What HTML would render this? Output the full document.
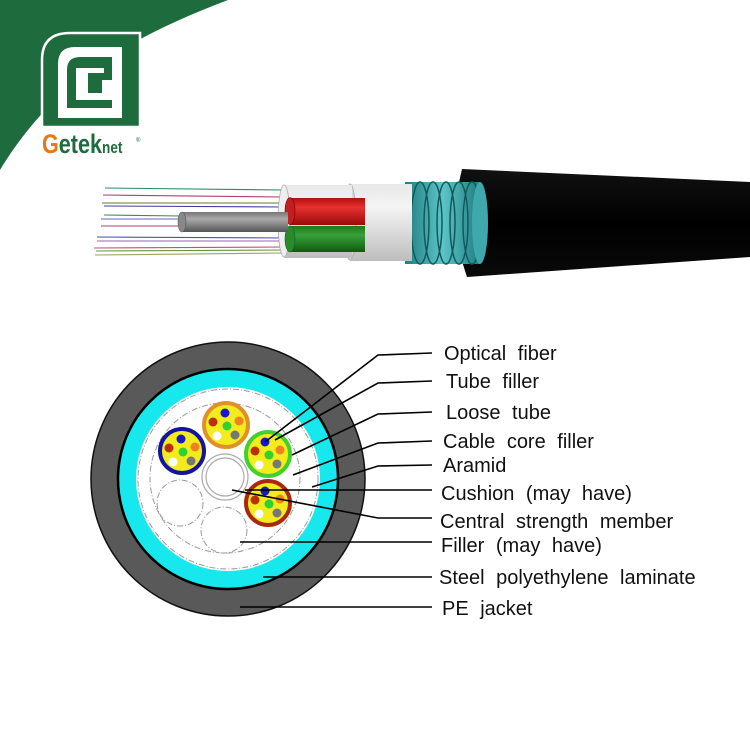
<!DOCTYPE html>
<html><head><meta charset="utf-8"><style>
html,body{margin:0;padding:0;background:#fff;}
svg{display:block;}
</style></head><body>
<svg width="750" height="750" viewBox="0 0 750 750" xmlns="http://www.w3.org/2000/svg">
<defs>
<linearGradient id="gjack" x1="0" y1="0" x2="0" y2="1"><stop offset="0" stop-color="#111"/><stop offset="0.5" stop-color="#000"/><stop offset="1" stop-color="#0a0a0a"/></linearGradient>
<linearGradient id="gwhite" x1="0" y1="0" x2="0" y2="1"><stop offset="0" stop-color="#e8e8e8"/><stop offset="0.3" stop-color="#f4f4f4"/><stop offset="1" stop-color="#bdbdbd"/></linearGradient>
<linearGradient id="gred" x1="0" y1="0" x2="0" y2="1"><stop offset="0" stop-color="#b01010"/><stop offset="0.35" stop-color="#e83030"/><stop offset="1" stop-color="#9a0a0a"/></linearGradient>
<linearGradient id="ggreen" x1="0" y1="0" x2="0" y2="1"><stop offset="0" stop-color="#1a7a1a"/><stop offset="0.35" stop-color="#3aa03a"/><stop offset="1" stop-color="#0e5a0e"/></linearGradient>
<linearGradient id="ggray" x1="0" y1="0" x2="0" y2="1"><stop offset="0" stop-color="#777"/><stop offset="0.35" stop-color="#aaa"/><stop offset="1" stop-color="#555"/></linearGradient>
<linearGradient id="gcyan" x1="0" y1="0" x2="1" y2="0"><stop offset="0" stop-color="#1f7d80"/><stop offset="0.5" stop-color="#5ec4c8"/><stop offset="1" stop-color="#1f7d80"/></linearGradient>
</defs>

<path d="M0,0 L228,0 C150,30 60,70 0,170 Z" fill="#1e6b3e"/>
<path d="M42,127 L42,60 Q42,33 70,33 L140,33 L140,127 Z" fill="#1e6b3e" stroke="#fff" stroke-width="2.5"/>
<path d="M58,118 L58,64 Q58,47 75,47 L122,47 L122,118 Z" fill="#fff"/>
<path d="M67,108 L67,70 Q67,57 80,57 L112,57 L112,108 Z" fill="#1e6b3e"/>
<path d="M76,100 L76,68 L104,68 L104,73 L88,73 L88,93 L102,93 L102,80 L112,80 L112,100 Z" fill="#fff"/>
<text x="42" y="153" font-family="Liberation Sans, sans-serif" font-weight="bold" font-size="27" fill="#1e6b3e" transform="scale(0.8,1)" transform-origin="42 153"><tspan fill="#e67817">G</tspan>etek<tspan font-size="17">net</tspan></text>
<text x="136" y="142" font-family="Liberation Sans, sans-serif" font-size="6" fill="#1e6b3e">®</text>

<g stroke-width="1.1" fill="none">
<line x1="105" y1="188" x2="285" y2="190" stroke="#2a8a6a"/>
<line x1="103" y1="195" x2="285" y2="197" stroke="#b04070"/>
<line x1="102" y1="203" x2="285" y2="203" stroke="#6a7a2a"/>
<line x1="104" y1="206" x2="285" y2="207" stroke="#4040a0"/>
<line x1="104" y1="215" x2="182" y2="216" stroke="#3a8a5a"/>
<line x1="101" y1="219" x2="182" y2="219" stroke="#7060c0"/>
<line x1="101" y1="226" x2="182" y2="226" stroke="#b04070"/>
<line x1="97" y1="237" x2="285" y2="238" stroke="#5050b0"/>
<line x1="97" y1="241" x2="285" y2="241" stroke="#9a60b0"/>
<line x1="94" y1="248" x2="285" y2="247" stroke="#c05080"/>
<line x1="96" y1="251" x2="285" y2="250" stroke="#6a9a3a"/>
<line x1="95" y1="255" x2="285" y2="253" stroke="#a0a060"/>
</g>

<path d="M462,169 L750,182 L750,257 L467,277 Q448,223 462,169 Z" fill="url(#gjack)"/>
<rect x="405" y="182" width="75" height="82" fill="url(#gcyan)"/>
<g fill="none" stroke="#0f5a5c" stroke-width="1.5">
<ellipse cx="420" cy="223" rx="9" ry="41"/>
<ellipse cx="433" cy="223" rx="9" ry="41"/>
<ellipse cx="446" cy="223" rx="9" ry="41"/>
<ellipse cx="459" cy="223" rx="9" ry="41"/>
<ellipse cx="472" cy="223" rx="9" ry="41"/>
</g>
<ellipse cx="480" cy="223" rx="8" ry="41" fill="#3fa8ac"/>
<rect x="350" y="184" width="62" height="77" fill="url(#gwhite)"/>
<ellipse cx="350" cy="222" rx="6" ry="38" fill="#d8d8d8" stroke="#aaa" stroke-width="0.8"/>
<rect x="284" y="185" width="68" height="73" fill="url(#gwhite)"/>
<ellipse cx="284" cy="221" rx="6" ry="36" fill="#eee" stroke="#aaa" stroke-width="0.8"/>
<rect x="290" y="198" width="75" height="27" fill="url(#gred)"/>
<ellipse cx="290" cy="211" rx="5" ry="13.5" fill="#c02020" stroke="#700" stroke-width="0.6"/>
<rect x="290" y="226" width="75" height="26" fill="url(#ggreen)"/>
<ellipse cx="290" cy="239" rx="5" ry="13" fill="#2a8a2a" stroke="#064" stroke-width="0.6"/>
<rect x="182" y="212" width="106" height="20" fill="url(#ggray)"/>
<ellipse cx="182" cy="222" rx="4" ry="10" fill="#888" stroke="#555" stroke-width="0.6"/>

<circle cx="228" cy="479" r="137" fill="#595959" stroke="#111" stroke-width="1.5"/>
<circle cx="228" cy="479" r="110" fill="#17e8ee" stroke="#000" stroke-width="2.5"/>
<circle cx="228" cy="479" r="92" fill="#fff"/>
<circle cx="228" cy="479" r="90" fill="none" stroke="#999" stroke-width="1" stroke-dasharray="6 2 1 2"/>
<circle cx="225" cy="478" r="75" fill="none" stroke="#999" stroke-width="1" stroke-dasharray="6 2 1 2"/>
<circle cx="225" cy="477" r="23" fill="#fff" stroke="#aaa" stroke-width="1.2"/>
<circle cx="225" cy="477" r="19" fill="#fff" stroke="#aaa" stroke-width="1.2"/>
<circle cx="180" cy="503" r="23" fill="#fff" stroke="#999" stroke-width="1" stroke-dasharray="6 2 1 2"/>
<circle cx="224" cy="530" r="23" fill="#fff" stroke="#999" stroke-width="1" stroke-dasharray="6 2 1 2"/>

<g>
<circle cx="182" cy="451" r="22" fill="#f3ec1c" stroke="#1414a0" stroke-width="4"/>
<circle cx="181" cy="439" r="4.5" fill="#1818c8"/><circle cx="169" cy="448" r="4.5" fill="#b83010"/><circle cx="195" cy="447" r="4.5" fill="#f08020"/><circle cx="183" cy="452" r="4.5" fill="#30d030"/><circle cx="173" cy="462" r="4.5" fill="#fff"/><circle cx="191" cy="461" r="4.5" fill="#777"/>
</g>
<g>
<circle cx="226" cy="425" r="22" fill="#f3ec1c" stroke="#e0902a" stroke-width="4"/>
<circle cx="225" cy="413" r="4.5" fill="#1818c8"/><circle cx="213" cy="422" r="4.5" fill="#b83010"/><circle cx="239" cy="421" r="4.5" fill="#f08020"/><circle cx="227" cy="426" r="4.5" fill="#30d030"/><circle cx="217" cy="436" r="4.5" fill="#fff"/><circle cx="235" cy="435" r="4.5" fill="#777"/>
</g>
<g>
<circle cx="268" cy="454" r="22" fill="#f3ec1c" stroke="#40d030" stroke-width="4"/>
<circle cx="265" cy="442" r="4.5" fill="#1818c8"/><circle cx="255" cy="451" r="4.5" fill="#b83010"/><circle cx="280" cy="450" r="4.5" fill="#f08020"/><circle cx="269" cy="455" r="4.5" fill="#30d030"/><circle cx="259" cy="465" r="4.5" fill="#fff"/><circle cx="277" cy="464" r="4.5" fill="#777"/>
</g>
<g>
<circle cx="268" cy="503" r="22" fill="#f3ec1c" stroke="#a82810" stroke-width="4"/>
<circle cx="265" cy="491" r="4.5" fill="#1818c8"/><circle cx="255" cy="500" r="4.5" fill="#b83010"/><circle cx="280" cy="499" r="4.5" fill="#f08020"/><circle cx="269" cy="504" r="4.5" fill="#30d030"/><circle cx="259" cy="514" r="4.5" fill="#fff"/><circle cx="277" cy="513" r="4.5" fill="#777"/>
</g>

<g stroke="#000" stroke-width="1.6" fill="none">
<polyline points="265,442 378,355 432,353"/>
<polyline points="275,440 378,383 432,381"/>
<polyline points="292,455 378,414 432,412"/>
<polyline points="293,475 378,443 432,441"/>
<polyline points="312,487 378,466 432,465"/>
<polyline points="245,490 432,490"/>
<polyline points="232,490 378,518 432,518"/>
<polyline points="240,542 432,542"/>
<polyline points="263,577 432,577"/>
<polyline points="240,607 432,607"/>
</g>

<g font-family="Liberation Sans, sans-serif" font-size="20" fill="#111" word-spacing="6">
<text x="444" y="360">Optical fiber</text>
<text x="446" y="388">Tube filler</text>
<text x="446" y="419">Loose tube</text>
<text x="443" y="448">Cable core filler</text>
<text x="443" y="472">Aramid</text>
<text x="441" y="500">Cushion (may have)</text>
<text x="440" y="528">Central strength member</text>
<text x="441" y="552">Filler (may have)</text>
<text x="439" y="584">Steel polyethylene laminate</text>
<text x="442" y="615">PE jacket</text>
</g>
</svg>
</body></html>
